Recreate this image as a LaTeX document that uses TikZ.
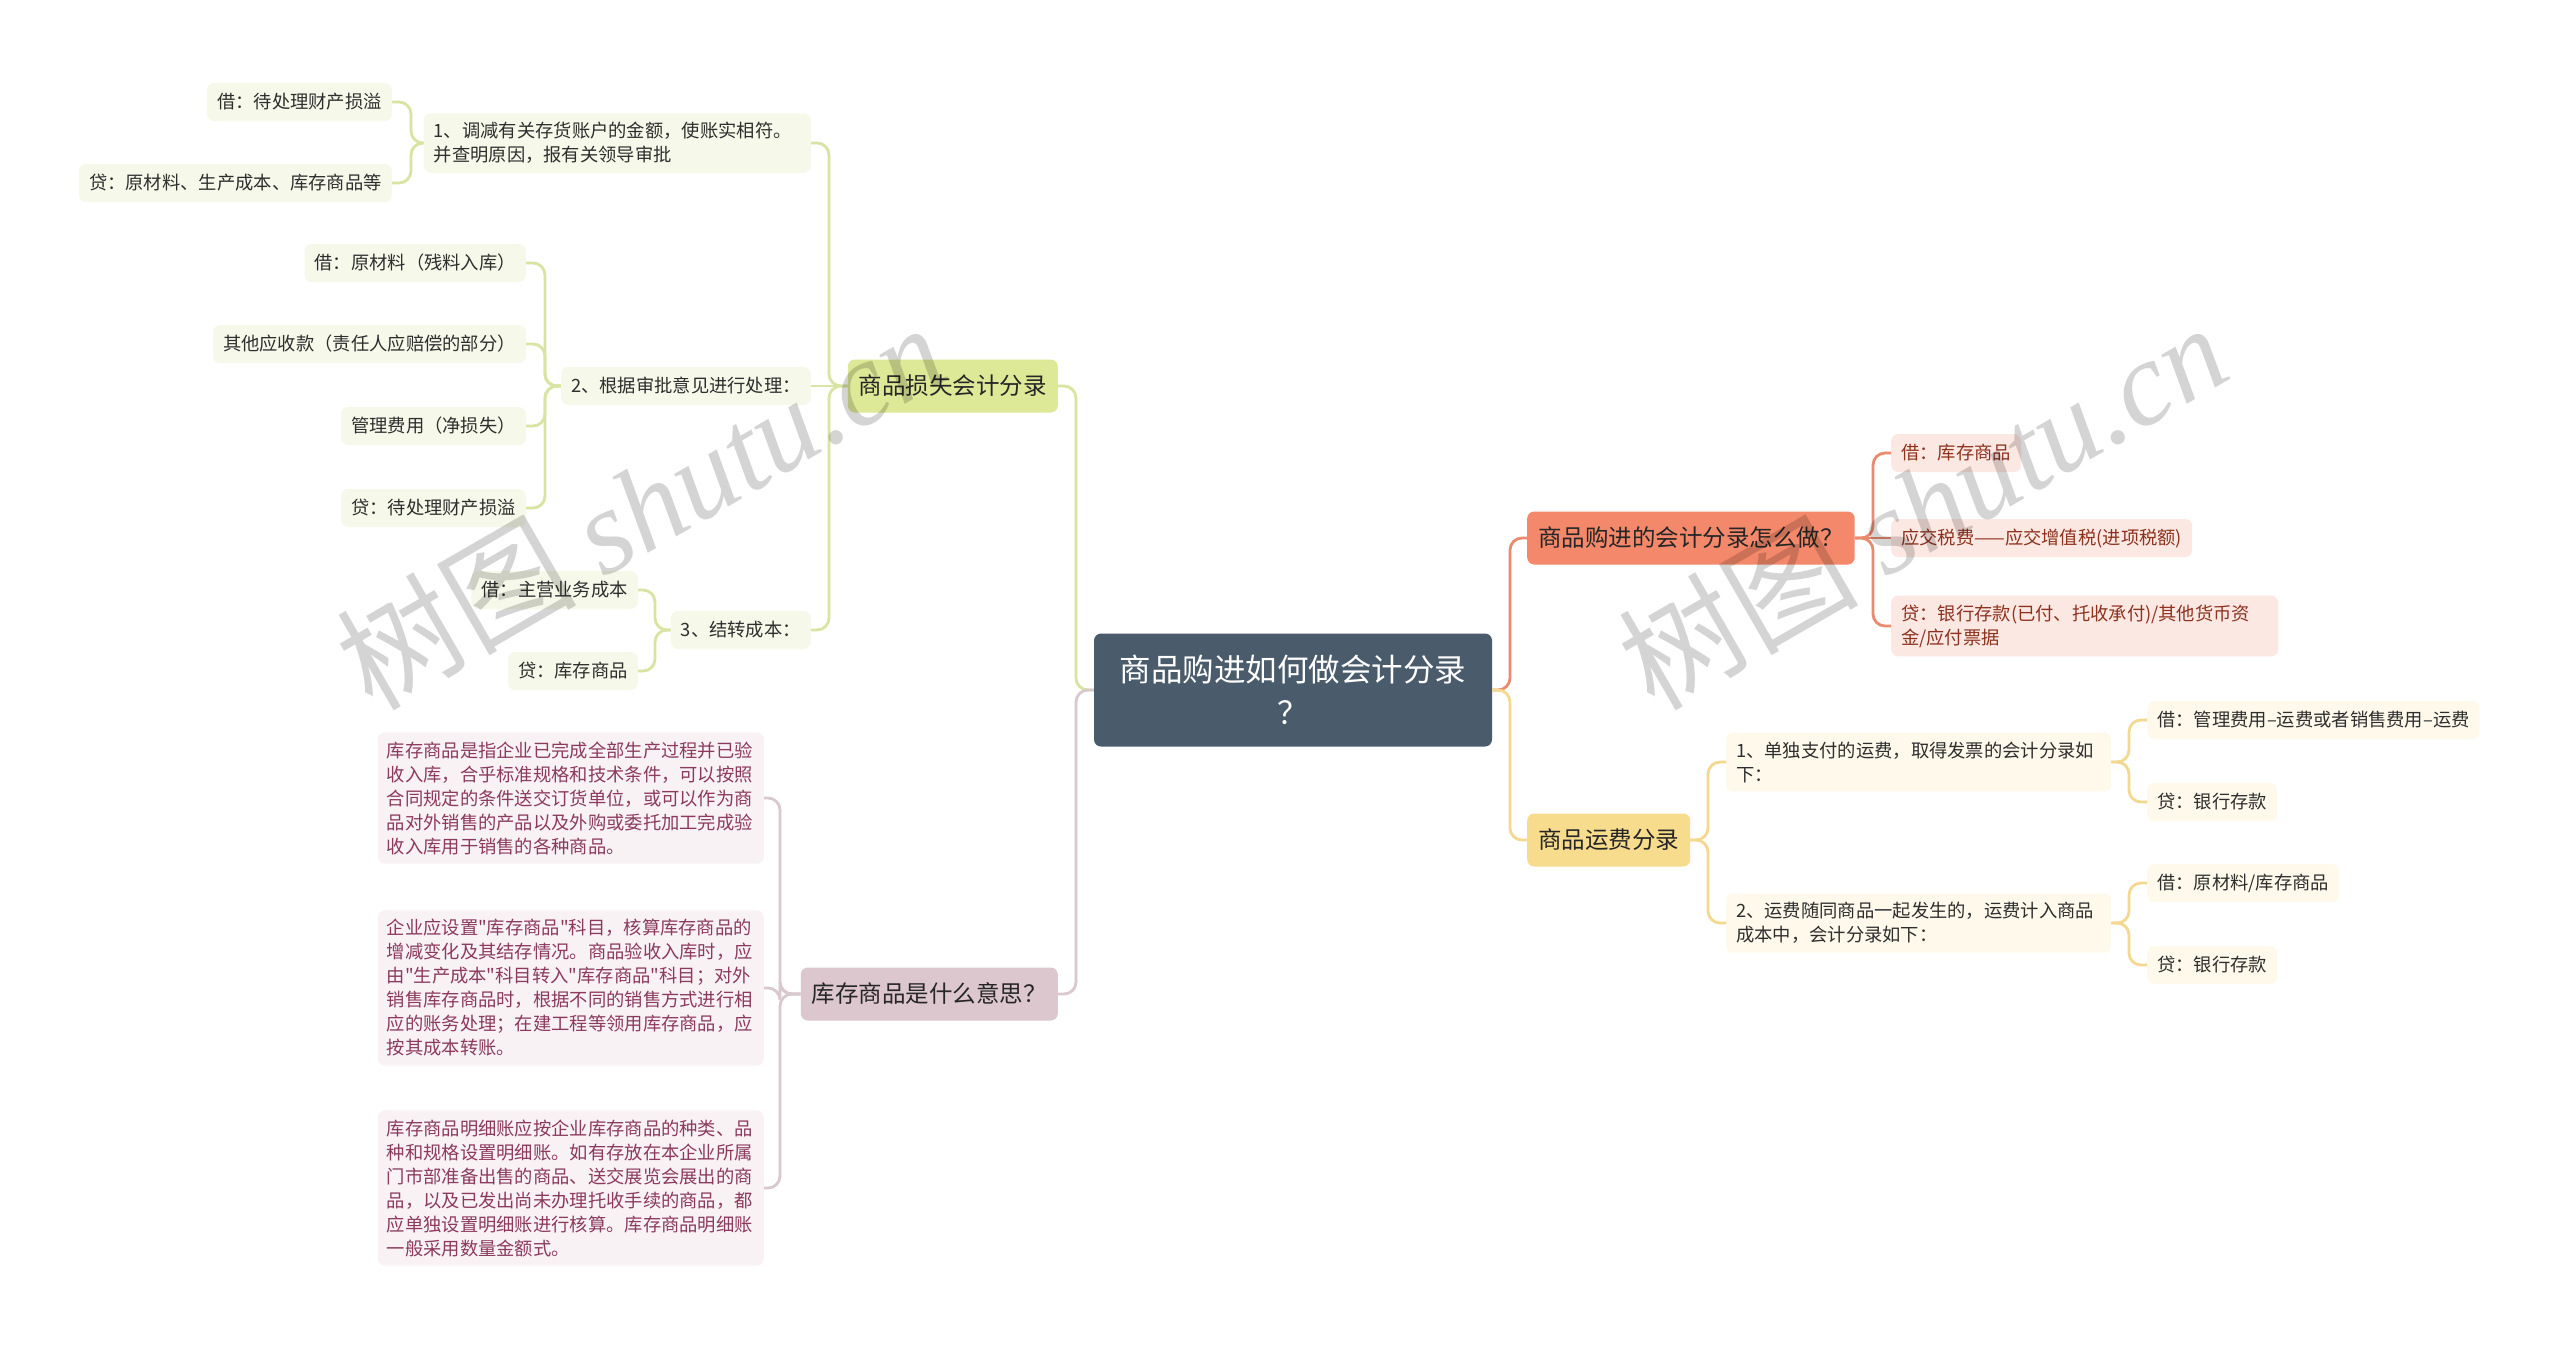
\documentclass[tikz,border=0pt]{standalone}
\usepackage{fontspec}
\setmainfont{Noto Sans CJK SC}[Ligatures=TeXOff]
\newfontfamily\wmlat{Liberation Serif}
\newfontfamily\wmcjk{Noto Sans CJK SC}
\definecolor{cDark}{HTML}{4A5B6C}
\definecolor{salF}{HTML}{F4886A}
\definecolor{salL}{HTML}{EB8A6E}
\definecolor{pinkF}{HTML}{FCE8E3}
\definecolor{pinkT}{HTML}{8C321E}
\definecolor{yelF}{HTML}{F8DC8E}
\definecolor{yelL}{HTML}{F3D88F}
\definecolor{creamF}{HTML}{FEF9EB}
\definecolor{grnF}{HTML}{DDE996}
\definecolor{grnL}{HTML}{D8E4A2}
\definecolor{grnLeaf}{HTML}{F6F9EA}
\definecolor{mauF}{HTML}{DCC7CF}
\definecolor{mauL}{HTML}{DAC8CF}
\definecolor{mauLeaf}{HTML}{F8F2F4}
\definecolor{mauT}{HTML}{8C3A5E}
\definecolor{txt}{HTML}{2E2E2E}
\newcommand\mmR[4]{\draw[conn,draw=#1] (#2.east) -- (#2.east -| #4) -- (#3.west -| #4) -- (#3.west);}
\newcommand\mmL[4]{\draw[conn,draw=#1] (#2.west) -- (#2.west -| #4) -- (#3.east -| #4) -- (#3.east);}
\begin{document}
\begin{tikzpicture}[x=1pt,y=-1pt,
  conn/.style={line width=2.8pt, rounded corners=12pt},
  centre/.style={fill=cDark, text=white, rounded corners=7pt, minimum width=398pt, minimum height=113pt, align=center, inner sep=0pt, font=\fontsize{31.5}{43}\selectfont},
  lone/.style={rounded corners=7pt, minimum height=53pt, inner xsep=11pt, inner ysep=0pt, text=black!85, text height=20.7pt, text depth=2.8pt, font=\fontsize{23.5}{28}\selectfont},
  leaf/.style={rounded corners=7pt, minimum height=38pt, inner xsep=10pt, inner ysep=0pt, text=txt, text height=16.1pt, text depth=2.2pt, font=\fontsize{18.3}{24}\selectfont},
  para/.style={rounded corners=7pt, inner xsep=10pt, inner ysep=9pt, align=left, text=txt, font=\fontsize{18.3}{24}\selectfont},
  pinkbox/.style={fill=pinkF, text=pinkT},
  creambox/.style={fill=creamF},
  grnbox/.style={fill=grnLeaf},
  maubox/.style={fill=mauLeaf, text=mauT},
  wm/.style={rotate=30, text=black, text opacity=0.17, inner sep=0pt}
]
\fill[white] (0,0) rectangle (2560,1345);
\useasboundingbox (0,0) rectangle (2560,1345);

\begin{scope}[yshift=-2pt]
% trunk x positions
\coordinate (tCR) at (1510,0);
\coordinate (tCL) at (1076,0);
\coordinate (tR1) at (1873,0);
\coordinate (tR2) at (1708,0);
\coordinate (tR2x) at (2129,0);
\coordinate (tL1) at (829,0);
\coordinate (tL1a) at (411,0);
\coordinate (tL1b) at (545,0);
\coordinate (tL1c) at (655,0);
\coordinate (tL2) at (780,0);

% centre
\node[centre] (c) at (1293,688) {商品购进如何做会计分录\\？};

% right branch 1
\node[lone, fill=salF, anchor=west] (r1) at (1527,536) {商品购进的会计分录怎么做？};
\node[leaf, pinkbox, anchor=west] (r1a) at (1891,451) {借：库存商品};
\node[leaf, pinkbox, anchor=west] (r1b) at (1891,536) {应交税费——应交增值税(进项税额)};
\node[para, pinkbox, text width=367pt, anchor=west] (r1c) at (1891,624) {贷：银行存款(已付、托收承付)/其他货币资\\金/应付票据};

% right branch 2
\node[lone, fill=yelF, anchor=west] (r2) at (1527,838) {商品运费分录};
\node[para, creambox, text width=365pt, anchor=west] (r2a) at (1726,760) {1、单独支付的运费，取得发票的会计分录如\\下：};
\node[para, creambox, text width=365pt, anchor=west] (r2b) at (1726,921) {2、运费随同商品一起发生的，运费计入商品\\成本中，会计分录如下：};
\node[leaf, creambox, anchor=west] (r2a1) at (2147,718) {借：管理费用–运费或者销售费用–运费};
\node[leaf, creambox, anchor=west] (r2a2) at (2147,800) {贷：银行存款};
\node[leaf, creambox, anchor=west] (r2b1) at (2147,881) {借：原材料/库存商品};
\node[leaf, creambox, anchor=west] (r2b2) at (2147,963) {贷：银行存款};

% left branch 1
\node[lone, fill=grnF, anchor=east] (l1) at (1058,384) {商品损失会计分录};
\node[para, grnbox, text width=367pt, anchor=east] (l1a) at (811,141) {1、调减有关存货账户的金额，使账实相符。\\并查明原因，报有关领导审批};
\node[leaf, grnbox, anchor=east] (l1a1) at (392,100) {借：待处理财产损溢};
\node[leaf, grnbox, anchor=east] (l1a2) at (392,181) {贷：原材料、生产成本、库存商品等};
\node[leaf, grnbox, anchor=east] (l1b) at (811,384) {2、根据审批意见进行处理：};
\node[leaf, grnbox, anchor=east] (l1b1) at (526,261) {借：原材料（残料入库）};
\node[leaf, grnbox, anchor=east] (l1b2) at (526,342) {其他应收款（责任人应赔偿的部分）};
\node[leaf, grnbox, anchor=east] (l1b3) at (526,424) {管理费用（净损失）};
\node[leaf, grnbox, anchor=east] (l1b4) at (526,506) {贷：待处理财产损溢};
\node[leaf, grnbox, anchor=east] (l1c) at (811,628) {3、结转成本：};
\node[leaf, grnbox, anchor=east] (l1c1) at (638,588) {借：主营业务成本};
\node[leaf, grnbox, anchor=east] (l1c2) at (638,669) {贷：库存商品};

% left branch 2
\node[lone, fill=mauF, anchor=east] (l2) at (1058,992) {库存商品是什么意思？};
\node[para, maubox, text width=368pt, inner xsep=9pt, anchor=east] (l2a) at (764,796) {库存商品是指企业已完成全部生产过程并已验\\收入库，合乎标准规格和技术条件，可以按照\\合同规定的条件送交订货单位，或可以作为商\\品对外销售的产品以及外购或委托加工完成验\\收入库用于销售的各种商品。};
\node[para, maubox, text width=368pt, inner xsep=9pt, anchor=east] (l2b) at (764,986) {企业应设置"库存商品"科目，核算库存商品的\\增减变化及其结存情况。商品验收入库时，应\\由"生产成本"科目转入"库存商品"科目；对外\\销售库存商品时，根据不同的销售方式进行相\\应的账务处理；在建工程等领用库存商品，应\\按其成本转账。};
\node[para, maubox, text width=368pt, inner xsep=9pt, anchor=east] (l2c) at (764,1186) {库存商品明细账应按企业库存商品的种类、品\\种和规格设置明细账。如有存放在本企业所属\\门市部准备出售的商品、送交展览会展出的商\\品，以及已发出尚未办理托收手续的商品，都\\应单独设置明细账进行核算。库存商品明细账\\一般采用数量金额式。};

% connectors
\mmR{salL}{c}{r1}{tCR}
\mmR{yelL}{c}{r2}{tCR}
\mmL{grnL}{c}{l1}{tCL}
\mmL{mauL}{c}{l2}{tCL}

\mmR{salL}{r1}{r1a}{tR1}
\draw[conn,draw=salL] (r1.east) -- (r1b.west);
\mmR{salL}{r1}{r1c}{tR1}

\mmR{yelL}{r2}{r2a}{tR2}
\mmR{yelL}{r2}{r2b}{tR2}
\mmR{yelL}{r2a}{r2a1}{tR2x}
\mmR{yelL}{r2a}{r2a2}{tR2x}
\mmR{yelL}{r2b}{r2b1}{tR2x}
\mmR{yelL}{r2b}{r2b2}{tR2x}

\mmL{grnL}{l1}{l1a}{tL1}
\draw[conn,draw=grnL] (l1.west) -- (l1b.east);
\mmL{grnL}{l1}{l1c}{tL1}
\mmL{grnL}{l1a}{l1a1}{tL1a}
\mmL{grnL}{l1a}{l1a2}{tL1a}
\mmL{grnL}{l1b}{l1b1}{tL1b}
\mmL{grnL}{l1b}{l1b2}{tL1b}
\mmL{grnL}{l1b}{l1b3}{tL1b}
\mmL{grnL}{l1b}{l1b4}{tL1b}
\mmL{grnL}{l1c}{l1c1}{tL1c}
\mmL{grnL}{l1c}{l1c2}{tL1c}

\mmL{mauL}{l2}{l2a}{tL2}
\mmL{mauL}{l2}{l2b}{tL2}
\mmL{mauL}{l2}{l2c}{tL2}
\end{scope}

% watermarks
\node[wm] (wm1) at (640,505) {\fontsize{120}{120}\selectfont\wmcjk 树图 \wmlat\itshape shutu.cn};
\node[wm] (wm2) at (1922,505) {\fontsize{120}{120}\selectfont\wmcjk 树图 \wmlat\itshape shutu.cn};
\end{tikzpicture}
\end{document}
